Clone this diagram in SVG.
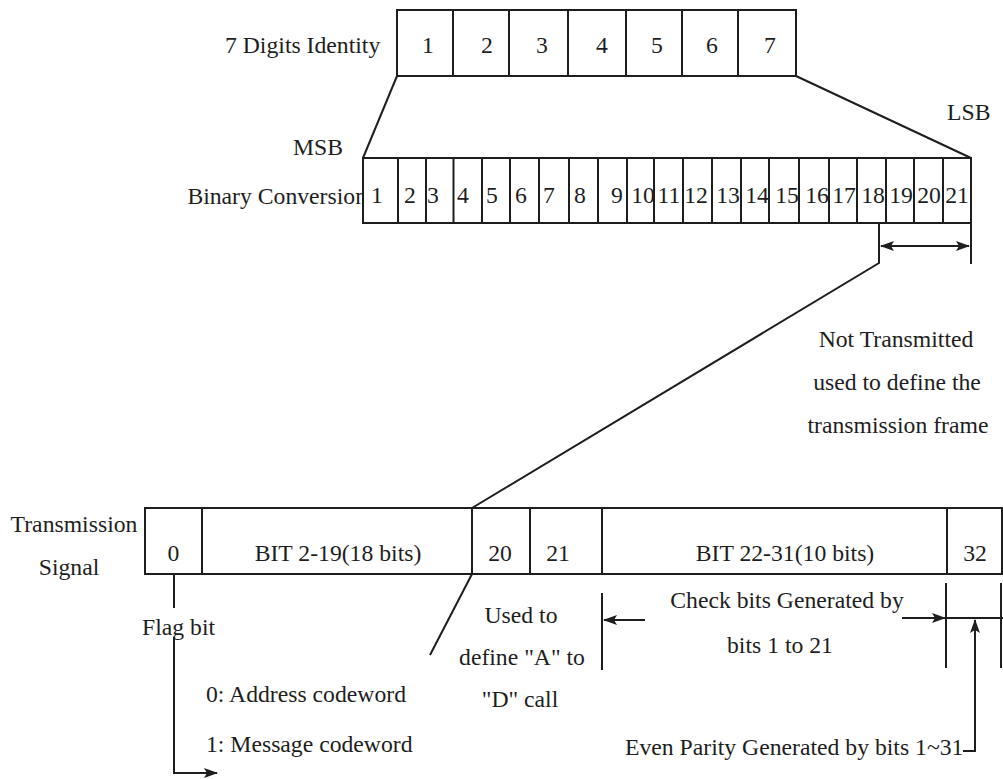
<svg xmlns="http://www.w3.org/2000/svg" width="1003" height="779" viewBox="0 0 1003 779">
<defs>
<style>
text { font-family: "Liberation Serif", "Times New Roman", serif; font-size: 23.7px; fill: #1e1e1e; }
.c { text-anchor: middle; }
.e { text-anchor: end; }
.box { fill: #fff; stroke: #1e1e1e; stroke-width: 2; }
.ln { fill: none; stroke: #1e1e1e; stroke-width: 2; }
.ar { marker-end: url(#ah); }
</style>
<marker id="ah" viewBox="0 0 14 10" refX="13" refY="5" markerWidth="14" markerHeight="10" markerUnits="userSpaceOnUse" orient="auto-start-reverse">
<path d="M0,0 L14,5 L0,10 L3,5 Z" fill="#1e1e1e"/>
</marker>
</defs>
<rect x="0" y="0" width="1003" height="779" fill="#fff"/>

<g id="label-7digits"><text x="225" y="53">7 Digits Identity</text></g>
<g id="top-row">
<rect class="box" x="397" y="10" width="399" height="66"/>
<path class="ln" d="M453,10V76M509,10V76M568,10V76M626,10V76M682,10V76M738,10V76"/>
<text class="c" x="428" y="53">1</text>
<text class="c" x="487" y="53">2</text>
<text class="c" x="542" y="53">3</text>
<text class="c" x="602" y="53">4</text>
<text class="c" x="657" y="53">5</text>
<text class="c" x="712" y="53">6</text>
<text class="c" x="770" y="53">7</text>
</g>

<g id="label-msb"><text x="293" y="155">MSB</text></g>
<g id="label-lsb"><text x="947" y="120">LSB</text></g>
<g id="label-binary"><text class="e" x="367" y="204">Binary Conversion</text></g>
<g id="binary-row">
<rect class="box" x="363" y="158" width="608" height="65"/>
<path class="ln" d="M398,158V223M426,158V223M453.5,158V223M482,158V223M510,158V223M539,158V223M569,158V223M598,158V223M627,158V223M654,158V223M683,158V223M712,158V223M741,158V223M769,158V223M799,158V223M829,158V223M857,158V223M886,158V223M914,158V223M943,158V223"/>
<text class="c" x="377" y="203">1</text>
<text class="c" x="410" y="203">2</text>
<text class="c" x="433" y="203">3</text>
<text class="c" x="463" y="203">4</text>
<text class="c" x="492" y="203">5</text>
<text class="c" x="521" y="203">6</text>
<text class="c" x="549" y="203">7</text>
<text class="c" x="580" y="203">8</text>
<text class="c" x="617" y="203">9</text>
<text class="c" x="643" y="203">10</text>
<text class="c" x="669" y="203">11</text>
<text class="c" x="696" y="203">12</text>
<text class="c" x="728" y="203">13</text>
<text class="c" x="757" y="203">14</text>
<text class="c" x="787" y="203">15</text>
<text class="c" x="817" y="203">16</text>
<text class="c" x="844" y="203">17</text>
<text class="c" x="873" y="203">18</text>
<text class="c" x="901" y="203">19</text>
<text class="c" x="929" y="203">20</text>
<text class="c" x="957" y="203">21</text>
</g>

<g id="label-not-transmitted">
<text class="c" x="896" y="347">Not Transmitted</text>
<text class="c" x="897" y="390">used to define the</text>
<text class="c" x="898" y="433">transmission frame</text>
</g>

<g id="label-tx"><text class="c" x="74" y="532">Transmission</text><text class="c" x="69" y="575">Signal</text></g>
<g id="tx-row">
<rect class="box" x="145" y="508" width="857" height="66"/>
<path class="ln" d="M202,508V574M472,508V574M530,508V574M602,508V574M947,508V574"/>
<text class="c" x="173.5" y="561">0</text>
<text class="c" x="338" y="561">BIT 2-19(18 bits)</text>
<text class="c" x="500" y="561">20</text>
<text class="c" x="558" y="561">21</text>
<text class="c" x="785" y="561">BIT 22-31(10 bits)</text>
<text class="c" x="975" y="561">32</text>
</g>

<g id="label-flag"><text x="142" y="635">Flag bit</text>
<text x="206" y="702">0: Address codeword</text>
<text x="206" y="752">1: Message codeword</text></g>
<g id="label-used"><text class="c" x="521" y="623">Used to</text>
<text class="c" x="522" y="665">define "A" to</text>
<text class="c" x="520" y="707">"D" call</text></g>
<g id="label-check"><text class="c" x="787" y="608">Check bits Generated by</text>
<text class="c" x="780" y="653">bits 1 to 21</text></g>
<g id="label-parity"><text x="625" y="755">Even Parity Generated by bits 1~31</text></g>

<g id="connectors">
<path class="ln" d="M397,76L363,158"/>
<path class="ln" d="M796,76L971,158"/>
<path class="ln" d="M879,223V263L472,508"/>
<path class="ln" d="M971,223V264"/>
<path class="ln" d="M881,246H969" marker-start="url(#ah)" marker-end="url(#ah)"/>
<path class="ln" d="M472,574L430,655"/>
<path class="ln" d="M174,574V608"/>
<path class="ln ar" d="M174,637V773H217"/>
<path class="ln" d="M602,593V670"/>
<path class="ln ar" d="M645,620H604"/>
<path class="ln" d="M946,583V668"/>
<path class="ln" d="M1001,583V668"/>
<path class="ln ar" d="M902,618H945"/>
<path class="ln" d="M946,618H1003"/>
<path class="ln ar" d="M963,751H975V620"/>
</g>
</svg>
